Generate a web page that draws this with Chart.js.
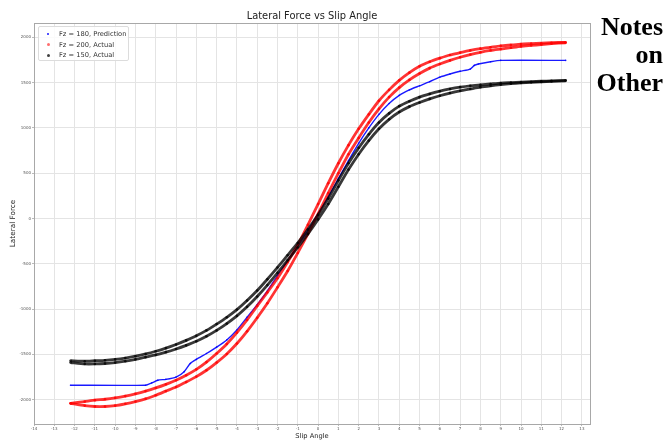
<!DOCTYPE html>
<html><head><meta charset="utf-8">
<script src="https://cdn.jsdelivr.net/npm/chart.js@4.4.1/dist/chart.umd.min.js"></script>
<style>
html,body{margin:0;padding:0;background:#fff;}
#wrap{position:relative;width:670px;height:440px;overflow:hidden;}
#c{position:absolute;left:0;top:0;}
#title{position:absolute;left:212px;width:200px;top:10px;height:12px;line-height:12px;text-align:center;font-family:"DejaVu Sans",sans-serif;font-size:9.9px;color:#222;white-space:nowrap;}
#notes{position:absolute;right:7px;top:13px;font-family:"Liberation Serif","Times New Roman",serif;font-weight:bold;font-size:26px;line-height:28px;text-align:right;color:#000;}
#legend{position:absolute;left:38px;top:26px;width:89px;height:33px;border:1px solid #dcdcdc;border-radius:2px;background:rgba(255,255,255,0.85);font-family:"DejaVu Sans",sans-serif;font-size:6.7px;color:#333;}
#legend .row{position:absolute;left:0;height:10px;line-height:10px;white-space:nowrap;}
#legend .dot{position:absolute;border-radius:50%;}
#legend .lbl{position:absolute;left:20px;top:0;}
</style></head>
<body>
<div id="wrap">
<canvas id="c" width="670" height="440"></canvas>
<div id="title">Lateral Force vs Slip Angle</div>
<div id="legend">
 <div class="row" style="top:2px"><span class="dot" style="left:8px;top:4px;width:2px;height:2px;background:rgba(0,0,255,0.9)"></span><span class="lbl">Fz = 180, Prediction</span></div>
 <div class="row" style="top:12.5px"><span class="dot" style="left:7.5px;top:3.5px;width:3px;height:3px;background:rgba(255,60,60,0.75)"></span><span class="lbl">Fz = 200, Actual</span></div>
 <div class="row" style="top:23px"><span class="dot" style="left:7.5px;top:3.5px;width:3px;height:3px;background:rgba(0,0,0,0.75)"></span><span class="lbl">Fz = 150, Actual</span></div>
</div>
<div id="notes">Notes<br>on<br>Other</div>
</div>
<script>
// Slip angle sample positions (deg)
const slip = [-12.2,-11.5,-11,-10.5,-10,-9.5,-9,-8.5,-8,-7.5,-7,-6.5,-6,-5.5,-5,-4.5,-4,-3.5,-3,-2.5,-2,-1.5,-1,-0.5,0,0.5,1,1.5,2,2.5,3,3.5,4,4.5,5,5.5,6,6.5,7,7.5,8,8.5,9,9.5,10,10.5,11,11.5,12.2];
// Fz = 200, Actual (two hysteresis branches)
const red200Upper = [-2040,-2020,-2005,-1995,-1980,-1960,-1935,-1905,-1870,-1830,-1785,-1730,-1665,-1585,-1490,-1385,-1260,-1120,-965,-815,-660,-480,-290,-70,160,390,610,810,990,1150,1300,1420,1525,1610,1680,1730,1770,1805,1830,1855,1875,1890,1905,1915,1925,1930,1935,1940,1945];
const red200Lower = [-2040,-2065,-2075,-2075,-2065,-2045,-2020,-1990,-1950,-1905,-1860,-1805,-1745,-1675,-1590,-1495,-1380,-1245,-1095,-935,-760,-580,-380,-170,50,280,500,710,890,1060,1210,1340,1445,1530,1600,1660,1705,1745,1780,1810,1835,1855,1870,1885,1900,1910,1920,1930,1940];
// Fz = 150, Actual (two hysteresis branches)
const black150Upper = [-1570,-1575,-1570,-1565,-1555,-1540,-1520,-1495,-1465,-1430,-1390,-1345,-1295,-1235,-1165,-1090,-1005,-905,-795,-670,-540,-405,-270,-120,40,220,420,610,780,930,1060,1160,1240,1295,1340,1375,1405,1430,1450,1465,1475,1485,1495,1500,1505,1510,1515,1520,1525];
const black150Lower = [-1590,-1605,-1605,-1600,-1590,-1575,-1555,-1530,-1505,-1475,-1440,-1400,-1355,-1300,-1235,-1160,-1075,-975,-860,-735,-600,-460,-320,-170,-10,160,350,540,710,860,990,1095,1175,1235,1280,1320,1355,1385,1410,1430,1450,1465,1478,1488,1496,1503,1508,1513,1520];
// Fz = 180, Prediction
const blueSlip = [-12.2,-8.5,-8.2,-7.9,-7.5,-7,-6.6,-6.3,-6,-5.5,-5,-4.5,-4,-3.5,-3,-2.5,-2,-1.5,-1,-0.5,0,0.5,1,1.5,2,2.5,3,3.5,4,4.5,5,5.5,6,6.5,7,7.5,7.7,7.9,8.5,9,12.2];
const blue180 = [-1840,-1840,-1815,-1785,-1775,-1750,-1690,-1600,-1555,-1490,-1420,-1340,-1230,-1090,-950,-800,-630,-465,-300,-130,50,240,440,640,830,1000,1150,1270,1360,1420,1465,1510,1560,1595,1625,1650,1690,1705,1730,1745,1745];
// Axis ticks
const xTicks = [-14,-13,-12,-11,-10,-9,-8,-7,-6,-5,-4,-3,-2,-1,0,1,2,3,4,5,6,7,8,9,10,11,12,13];
const yTicks = [-2000,-1500,-1000,-500,0,500,1000,1500,2000];

function pts(xs, ys){ return xs.map((x,i)=>({x:x, y:ys[i]})); }

const frame = {
  id:'frame',
  afterDraw(chart){
    const a = chart.chartArea, ctx = chart.ctx;
    ctx.save(); ctx.strokeStyle='#a8a8a8'; ctx.lineWidth=1;
    ctx.strokeRect(Math.round(a.left)+0.5, Math.round(a.top)+0.5, Math.round(a.right-a.left), Math.round(a.bottom-a.top));
    ctx.restore();
  }
};

const lineDs = (label, data, color, w, r, order) => ({
  label, data, showLine:true, borderColor:color, backgroundColor:color,
  borderWidth:w, pointRadius:r, pointBorderWidth:0, tension:0.2, order
});

new Chart(document.getElementById('c'), {
  type:'scatter',
  data:{ datasets:[
    lineDs('Fz = 180, Prediction', pts(blueSlip, blue180), 'rgba(0,0,255,0.9)', 1.4, 0.8, 3),
    lineDs('Fz = 200, Actual', pts(slip, red200Upper), 'rgba(255,0,0,0.8)', 2.8, 1.3, 2),
    lineDs('Fz = 200, Actual', pts(slip, red200Lower), 'rgba(255,0,0,0.8)', 2.8, 1.3, 2),
    lineDs('Fz = 150, Actual', pts(slip, black150Upper), 'rgba(0,0,0,0.78)', 2.8, 1.3, 1),
    lineDs('Fz = 150, Actual', pts(slip, black150Lower), 'rgba(0,0,0,0.78)', 2.8, 1.3, 1)
  ]},
  options:{
    responsive:false, animation:false,
    layout:{padding:{left:0,right:80,top:23,bottom:0}},
    plugins:{ legend:{display:false}, tooltip:{enabled:false}, title:{display:false} },
    scales:{
      x:{ type:'linear', min:-14, max:13.4,
        afterBuildTicks(s){ s.ticks = xTicks.map(v=>({value:v})); },
        afterFit(s){ s.height = 16; },
        grid:{color:'#e4e4e4', tickLength:2, tickColor:'#bbb'},
        border:{display:false},
        ticks:{font:{family:'DejaVu Sans', size:4}, color:'#555', padding:1, maxRotation:0, autoSkip:false, callback:v=>String(v)},
        title:{display:true, text:'Slip Angle', color:'#222', font:{family:'DejaVu Sans', size:6.7}, padding:{top:0,bottom:0}}
      },
      y:{ type:'linear', min:-2268, max:2158,
        afterBuildTicks(s){ s.ticks = yTicks.map(v=>({value:v})); },
        afterFit(s){ s.width = 34; },
        grid:{color:'#e4e4e4', tickLength:2, tickColor:'#bbb'},
        border:{display:false},
        ticks:{font:{family:'DejaVu Sans', size:4}, color:'#555', padding:1, autoSkip:false, callback:v=>String(v)},
        title:{display:true, text:'Lateral Force', color:'#222', font:{family:'DejaVu Sans', size:7.3}, padding:{top:9,bottom:0}}
      }
    }
  },
  plugins:[frame]
});
</script>
</body></html>
